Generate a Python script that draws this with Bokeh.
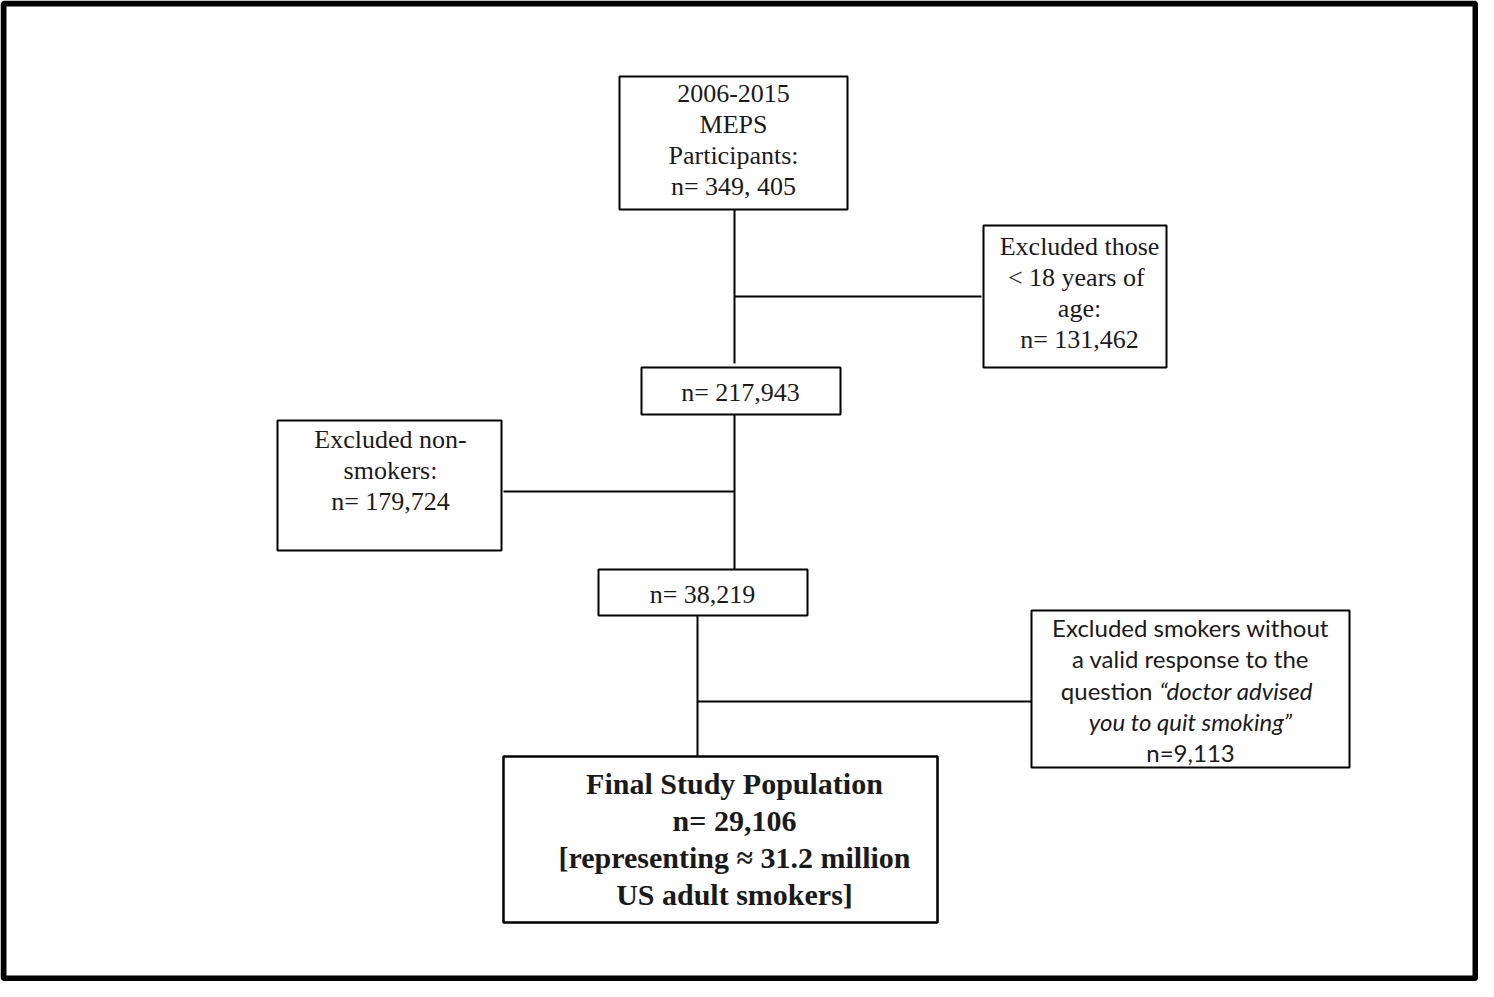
from bokeh.plotting import figure
from bokeh.models import Range1d, ColumnDataSource
from bokeh.embed import file_html
from bokeh.resources import INLINE
from bokeh.core.properties import value

# ---- content ----
box_names = ["meps", "adults", "excl_age", "smokers", "excl_nonsmk", "excl_invalid", "final"]
counts = {"meps": "349, 405", "excl_age": "131,462", "adults": "217,943",
          "excl_nonsmk": "179,724", "smokers": "38,219", "excl_invalid": "9,113",
          "final": "29,106"}
meps_lines = ["2006-2015", "MEPS", "Participants:", "n= " + counts["meps"]]
age_lines = ["Excluded those", " < 18 years of", "age:", "n= " + counts["excl_age"]]
adults_lines = ["n= " + counts["adults"]]
nonsmk_lines = ["Excluded non-", "smokers:", "n= " + counts["excl_nonsmk"]]
smokers_lines = ["n= " + counts["smokers"]]
invalid_lines_plain = ["Excluded smokers without", "a valid response to the"]
invalid_q_plain = "question"
invalid_q_italic = "\u201cdoctor advised"
invalid_line4_italic = "you to quit smoking\u201d"
invalid_last = "n=" + counts["excl_invalid"]
final_lines = ["Final Study Population", "n= " + counts["final"],
               "[representing \u2248 31.2 million", "US adult smokers]"]

# ---- layout (screen pixel coordinates) ----
W, H = 1478, 981
p = figure(width=W, height=H, output_backend="svg", toolbar_location=None,
           x_range=Range1d(0, W), y_range=Range1d(H, 0),
           min_border=0, outline_line_color=None)
p.axis.visible = False
p.grid.visible = False
p.background_fill_color = "white"
p.border_fill_color = "white"

# page frame
p.quad(left=[3], right=[W - 3], top=[3], bottom=[H - 3],
       fill_color=None, line_color="black", line_width=6)

# boxes: left, right, top, bottom
boxes = {
    "meps": (619, 847, 76, 209),
    "excl_age": (983, 1166, 225, 367),
    "adults": (641, 840, 367, 414),
    "excl_nonsmk": (277, 501, 420, 550),
    "smokers": (598, 807, 569, 615),
    "excl_invalid": (1031, 1349, 610, 767),
    "final": (503, 937, 756, 922),
}

# connectors
seg = ColumnDataSource(dict(
    x0=[734, 734, 734, 503, 697, 697],
    y0=[209, 296, 414, 491, 615, 701],
    x1=[734, 981, 734, 734, 697, 1031],
    y1=[363, 296, 569, 491, 756, 701],
))
p.segment("x0", "y0", "x1", "y1", source=seg, line_color="black", line_width=2)

normal = [k for k in box_names if k != "final"]
p.quad(left=[boxes[k][0] for k in normal], right=[boxes[k][1] for k in normal],
       top=[boxes[k][2] for k in normal], bottom=[boxes[k][3] for k in normal],
       fill_color="white", line_color="black", line_width=2)
p.quad(left=[boxes["final"][0]], right=[boxes["final"][1]],
       top=[boxes["final"][2]], bottom=[boxes["final"][3]],
       fill_color="white", line_color="black", line_width=2.5)

serif = value("Liberation Serif")
sans = value("Lato")
tcol = "#1a1a1a"


def block(lines, cx, y0, dy, size="26px", font=serif, style="normal"):
    p.text(x=[cx] * len(lines), y=[y0 + i * dy for i in range(len(lines))],
           text=lines, text_font=font, text_font_size=size,
           text_font_style=style, text_align="center",
           text_baseline="middle", text_color=tcol)


block(meps_lines, 733, 93, 31)
block(age_lines, 1079, 246, 31)
block(adults_lines, 740, 392, 31)
block(nonsmk_lines, 390, 439, 31)
block(smokers_lines, 702, 594, 31)
block(final_lines, 734, 783, 37, size="30px", style="bold")

# invalid-response box (sans, with italic question)
sz = "24px"
block(invalid_lines_plain, 1190, 627, 31, size=sz, font=sans)
p.text(x=[1152], y=[690], text=[invalid_q_plain], text_font=sans,
       text_font_size=sz, text_align="right", text_baseline="middle",
       text_color=tcol)
p.text(x=[1159], y=[690], text=[invalid_q_italic], text_font=sans,
       text_font_size=sz, text_font_style="italic", text_align="left",
       text_baseline="middle", text_color=tcol)
block([invalid_line4_italic], 1190, 721, 31, size=sz, font=sans, style="italic")
block([invalid_last], 1190, 752, 31, size=sz, font=sans)

open("out.html", "w").write(file_html(p, INLINE))
